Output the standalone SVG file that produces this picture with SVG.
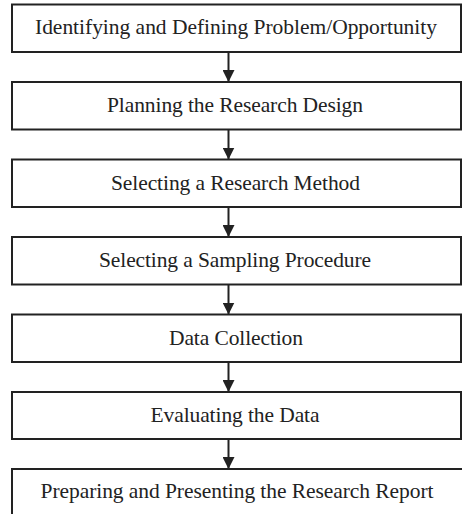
<svg xmlns="http://www.w3.org/2000/svg" width="462" height="514" viewBox="0 0 462 514">
<style>
.box{fill:#fff;stroke:#222;stroke-width:2}
.t{font-family:"Liberation Serif","Times New Roman",serif;font-size:21.5px;fill:#222;text-anchor:middle}
.c{stroke:#222;stroke-width:2;fill:none}
</style>
<defs>
<marker id="ah" viewBox="0 0 12 12" refX="12" refY="6" markerWidth="12" markerHeight="12" markerUnits="userSpaceOnUse" orient="auto">
<path d="M0,0 L12,6 L0,12 Z" fill="#222"/>
</marker>
</defs>
<rect width="462" height="514" fill="#fff"/>
<g id="connectors">
<line class="c" x1="228.5" y1="52" x2="228.5" y2="82" marker-end="url(#ah)"/>
<line class="c" x1="228.5" y1="129.5" x2="228.5" y2="159.5" marker-end="url(#ah)"/>
<line class="c" x1="228.5" y1="207" x2="228.5" y2="237" marker-end="url(#ah)"/>
<line class="c" x1="228.5" y1="284.5" x2="228.5" y2="314.5" marker-end="url(#ah)"/>
<line class="c" x1="228.5" y1="362" x2="228.5" y2="392" marker-end="url(#ah)"/>
<line class="c" x1="228.5" y1="439" x2="228.5" y2="469" marker-end="url(#ah)"/>
</g>
<g id="n1"><rect class="box" x="12" y="4.5" width="449" height="47.5"/><text class="t" x="236" y="34" textLength="402">Identifying and Defining Problem/Opportunity</text></g>
<g id="n2"><rect class="box" x="12" y="82" width="449" height="47.5"/><text class="t" x="235" y="112" textLength="256">Planning the Research Design</text></g>
<g id="n3"><rect class="box" x="12" y="159.5" width="449" height="47.5"/><text class="t" x="235.5" y="189.5" textLength="249">Selecting a Research Method</text></g>
<g id="n4"><rect class="box" x="12" y="237" width="449" height="47.5"/><text class="t" x="235" y="267" textLength="272">Selecting a Sampling Procedure</text></g>
<g id="n5"><rect class="box" x="12" y="314.5" width="449" height="47.5"/><text class="t" x="236" y="344.5" textLength="134">Data Collection</text></g>
<g id="n6"><rect class="box" x="12" y="392" width="449" height="47"/><text class="t" x="235" y="421.5" textLength="169">Evaluating the Data</text></g>
<g id="n7"><rect class="box" x="12" y="469" width="470" height="60"/><text class="t" x="237" y="497.5" textLength="393">Preparing and Presenting the Research Report</text></g>
</svg>
